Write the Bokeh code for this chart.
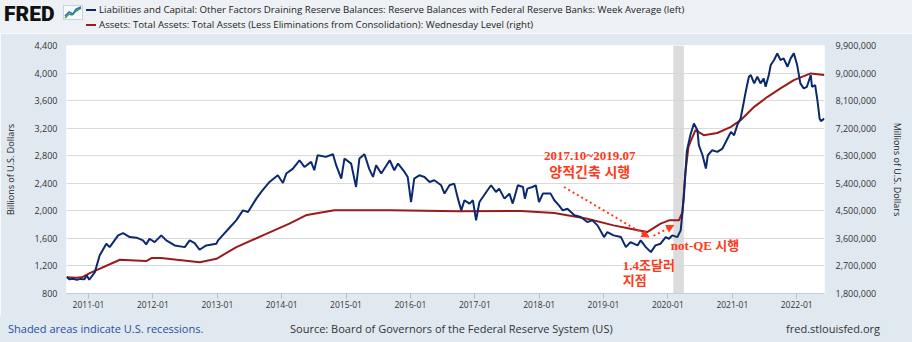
import pandas as pd
from bokeh.plotting import figure
from bokeh.layouts import column
from bokeh.models import (Range1d, LinearAxis, FixedTicker, NumeralTickFormatter,
                          DatetimeTickFormatter, BoxAnnotation, Label, Arrow,
                          NormalHead, ColumnDataSource, Div)
from bokeh.embed import file_html
from bokeh.resources import INLINE

# ---------------- data ----------------
reserves_dates = [
    "2010-08-29", "2010-09-15", "2010-10-06", "2010-10-27", "2010-11-17", "2010-12-08",
    "2010-12-22", "2011-01-05", "2011-02-06", "2011-03-05", "2011-04-12", "2011-05-01",
    "2011-06-18", "2011-07-16", "2011-08-23", "2011-09-30", "2011-11-06", "2011-11-24",
    "2011-12-13", "2012-01-11", "2012-02-18", "2012-03-17", "2012-05-04", "2012-06-30",
    "2012-07-28", "2012-08-25", "2012-09-22", "2012-10-30", "2012-12-26", "2013-01-05",
    "2013-03-11", "2013-04-18", "2013-05-26", "2013-06-24", "2013-08-10", "2013-09-07",
    "2013-10-24", "2013-12-10", "2014-01-08", "2014-01-27", "2014-03-06", "2014-04-12",
    "2014-05-10", "2014-06-17", "2014-07-05", "2014-07-24", "2014-09-09", "2014-10-19",
    "2014-11-06", "2014-12-05", "2014-12-23", "2015-01-30", "2015-02-27", "2015-03-18",
    "2015-04-16", "2015-05-12", "2015-06-03", "2015-06-21", "2015-07-20", "2015-09-06",
    "2015-10-02", "2015-10-23", "2015-11-29", "2015-12-17", "2016-01-05", "2016-01-23",
    "2016-02-21", "2016-03-21", "2016-04-19", "2016-05-16", "2016-06-24", "2016-07-13",
    "2016-08-10", "2016-09-06", "2016-09-27", "2016-10-16", "2016-11-03", "2016-12-02",
    "2016-12-21", "2017-01-08", "2017-01-27", "2017-03-07", "2017-04-03", "2017-05-01",
    "2017-05-19", "2017-06-18", "2017-07-16", "2017-08-04", "2017-09-02", "2017-10-01",
    "2017-10-12", "2017-10-26", "2017-11-24", "2017-12-13", "2017-12-31", "2018-01-22",
    "2018-03-07", "2018-03-28", "2018-04-23", "2018-05-15", "2018-06-10", "2018-07-20",
    "2018-08-25", "2018-10-01", "2018-10-30", "2018-11-28", "2019-01-04", "2019-01-23",
    "2019-02-27", "2019-04-10", "2019-05-08", "2019-06-03", "2019-07-13", "2019-07-31",
    "2019-08-29", "2019-09-27", "2019-10-23", "2019-11-21", "2019-12-20", "2020-01-08",
    "2020-01-26", "2020-02-24", "2020-03-14", "2020-04-01", "2020-04-18", "2020-05-08",
    "2020-05-28", "2020-06-17", "2020-06-25", "2020-07-16", "2020-08-04", "2020-08-15",
    "2020-09-09", "2020-10-08", "2020-11-06", "2020-12-05", "2020-12-24", "2021-01-11",
    "2021-01-29", "2021-02-17", "2021-02-28", "2021-03-18", "2021-04-05", "2021-04-16",
    "2021-05-05", "2021-05-23", "2021-06-10", "2021-06-28", "2021-07-09", "2021-07-27",
    "2021-08-07", "2021-08-26", "2021-09-13", "2021-10-01", "2021-10-19", "2021-11-10",
    "2021-11-28", "2021-12-16", "2022-01-04", "2022-01-22", "2022-02-10", "2022-02-28",
    "2022-03-22", "2022-03-29", "2022-04-16", "2022-04-30", "2022-05-11", "2022-05-19",
    "2022-06-07",
]
reserves_billions = [
    1040, 1005, 1015, 998, 1012, 1005,
    1062, 1000, 1110, 1352, 1523, 1473,
    1644, 1677, 1619, 1610, 1571, 1513,
    1595, 1546, 1644, 1571, 1498, 1473,
    1571, 1532, 1435, 1498, 1523, 1571,
    1755, 1862, 2007, 1983, 2177, 2274,
    2419, 2516, 2404, 2541, 2613, 2734,
    2637, 2710, 2589, 2807, 2783, 2822,
    2662, 2468, 2759, 2686, 2346, 2759,
    2822, 2613, 2492, 2662, 2541, 2734,
    2589, 2686, 2565, 2492, 2128, 2468,
    2516, 2492, 2419, 2444, 2371, 2250,
    2371, 2395, 2177, 2007, 2153, 2105,
    2153, 1862, 2128, 2274, 2371, 2274,
    2322, 2177, 2250, 2105, 2371, 2346,
    2177, 2322, 2346, 2371, 2128, 2250,
    2250, 2153, 2080, 2007, 2031, 1935,
    1910, 1837, 1862, 1789, 1619, 1692,
    1644, 1619, 1473, 1546, 1498, 1571,
    1473, 1401, 1498, 1523, 1619, 1595,
    1644, 1619, 1716, 2200, 2870, 3100,
    3268, 3171, 2953, 2807, 2613, 2807,
    2880, 2856, 2904, 3050, 3146, 3098,
    3244, 3341, 3486, 3728, 3946, 3971,
    3850, 3946, 3850, 3922, 3801, 3971,
    4116, 4189, 4286, 4189, 4213, 4092,
    4213, 4286, 4116, 3850, 3777, 3801,
    3971, 3801, 3825, 3583, 3341, 3302,
    3341,
]

assets_dates = [
    "2010-08-29", "2010-10-23", "2010-11-24", "2011-01-08", "2011-06-28", "2011-11-24",
    "2011-12-24", "2012-02-17", "2012-05-16", "2012-09-23", "2012-12-27", "2013-04-19",
    "2013-09-16", "2014-02-14", "2014-05-18", "2014-06-17", "2014-10-27", "2015-01-30",
    "2015-09-13", "2016-09-27", "2017-09-20", "2018-03-28", "2018-10-01", "2019-02-27",
    "2019-06-03", "2019-09-06", "2019-10-16", "2019-11-21", "2020-01-08", "2020-03-04",
    "2020-03-24", "2020-04-09", "2020-04-27", "2020-05-08", "2020-06-06", "2020-07-23",
    "2020-10-08", "2020-12-24", "2021-02-17", "2021-05-05", "2021-07-20", "2021-10-01",
    "2021-12-16", "2022-03-22", "2022-06-07",
]
assets_millions = [
    2330000, 2311000, 2330000, 2464000, 2902000, 2858000,
    2957000, 2957000, 2902000, 2824000, 2934000, 3314000,
    3699000, 4081000, 4354000, 4385000, 4516000, 4522000,
    4516000, 4489000, 4493000, 4428000, 4243000, 4025000,
    3917000, 3807000, 3949000, 4081000, 4189000, 4189000,
    4459000, 5717000, 6588000, 6752000, 7135000, 6970000,
    7042000, 7243000, 7461000, 7897000, 8224000, 8498000,
    8770000, 8989000, 8935000,
]

left_ticks = [800, 1200, 1600, 2000, 2400, 2800, 3200, 3600, 4000, 4400]
right_ticks = [1800000, 2700000, 3600000, 4500000, 5400000, 6300000,
               7200000, 8100000, 9000000, 9900000]
x_tick_dates = ["2011-01-01", "2012-01-01", "2013-01-01", "2014-01-01", "2015-01-01",
                "2016-01-01", "2017-01-01", "2018-01-01", "2019-01-01", "2020-01-01",
                "2021-01-01", "2022-01-01"]
recession = ("2020-02-01", "2020-04-01")

series1_name = ("Liabilities and Capital: Other Factors Draining Reserve Balances: "
                "Reserve Balances with Federal Reserve Banks: Week Average (left)")
series2_name = ("Assets: Total Assets: Total Assets (Less Eliminations from "
                "Consolidation): Wednesday Level (right)")


def ms(d):
    return pd.Timestamp(d).value / 1e6


W, H = 912, 342
HEAD_H = 33
FOOT_H = 26
MAIN_H = H - HEAD_H - FOOT_H
FL, FR = 65, 824
FT, FB = 45, 293

BLUE = "#0b2a6e"
RED = "#9b1b1b"
ANN = "#ff3a1a"
BG = "#e1e9f0"
HEAD_BG = "#edf1f5"
FONT = "Open Sans"
KFONT = "Liberation Serif, Noto Sans CJK KR"

# ---------------- main chart ----------------
p = figure(width=W, height=MAIN_H, output_backend="svg", toolbar_location=None,
           x_axis_type="datetime",
           x_range=Range1d(ms("2010-08-29"), ms("2022-06-08")),
           y_range=Range1d(800, 4400),
           min_border_left=FL, min_border_right=W - FR,
           min_border_top=FT - HEAD_H, min_border_bottom=(H - FOOT_H) - FB,
           background_fill_color="white", border_fill_color=BG)
p.outline_line_color = None
p.extra_y_ranges = {"assets": Range1d(1800000, 9900000)}

p.add_layout(BoxAnnotation(left=ms(recession[0]), right=ms(recession[1]),
                           fill_color="#d6d6d6", fill_alpha=0.85, line_color=None,
                           level="underlay"))

src1 = ColumnDataSource(dict(date=[ms(d) for d in reserves_dates], value=reserves_billions))
src2 = ColumnDataSource(dict(date=[ms(d) for d in assets_dates], value=assets_millions))
p.line("date", "value", source=src2, color=RED, line_width=2, y_range_name="assets")
p.line("date", "value", source=src1, color=BLUE, line_width=2)

yl = p.yaxis[0]
yl.ticker = FixedTicker(ticks=left_ticks)
yl.formatter = NumeralTickFormatter(format="0,0")
yl.axis_label = "Billions of U.S. Dollars"

yr = LinearAxis(y_range_name="assets", ticker=FixedTicker(ticks=right_ticks),
                formatter=NumeralTickFormatter(format="0,0"),
                axis_label="Millions of U.S. Dollars")
p.add_layout(yr, "right")

for ax, st, lst in [(yl, 9, 15), (yr, 11, 12)]:
    ax.axis_line_color = None
    ax.major_tick_line_color = None
    ax.minor_tick_line_color = None
    ax.major_tick_out = 0
    ax.major_tick_in = 0
    ax.major_label_standoff = st
    ax.axis_label_standoff = lst
    ax.major_label_text_font = FONT
    ax.major_label_text_font_size = "9px"
    ax.major_label_text_color = "#333333"
    ax.axis_label_text_font = FONT
    ax.axis_label_text_font_size = "9px"
    ax.axis_label_text_font_style = "normal"
    ax.axis_label_text_color = "#222222"

xa = p.xaxis[0]
xa.ticker = FixedTicker(ticks=[ms(d) for d in x_tick_dates])
xa.formatter = DatetimeTickFormatter(years="%Y-%m", months="%Y-%m", days="%Y-%m",
                                     hours="%Y-%m", minutes="%Y-%m", seconds="%Y-%m",
                                     milliseconds="%Y-%m", microseconds="%Y-%m")
xa.axis_line_color = "#c4ceda"
xa.major_tick_line_color = "#b4c0cc"
xa.minor_tick_line_color = None
xa.major_tick_out = 5
xa.major_tick_in = 0
xa.major_label_standoff = 2
xa.major_label_text_font = FONT
xa.major_label_text_font_size = "8.5px"
xa.major_label_text_color = "#333333"

p.xgrid.visible = False
p.ygrid.ticker = FixedTicker(ticks=left_ticks)
p.ygrid.grid_line_color = "#dadada"
p.ygrid.grid_line_width = 1


def dlabel(x, y, text, align="center", size="13px"):
    p.add_layout(Label(x=ms(x), y=y, text=text, text_color=ANN, text_font=KFONT,
                       text_font_size=size, text_font_style="bold",
                       text_align=align, text_baseline="middle"))


dlabel("2018-10-15", 2805, "2017.10~2019.07")
dlabel("2018-10-15", 2560, "양적긴축 시행", size="14px")
dlabel("2020-01-18", 1500, "not-QE 시행", "left")
dlabel("2019-04-20", 1207, "1.4조달러", "left")
dlabel("2019-04-20", 989, "지점", "left")

p.add_layout(Arrow(end=NormalHead(size=7, fill_color=ANN, line_color=ANN),
                   x_start=ms("2018-05-22"), y_start=2346,
                   x_end=ms("2019-09-16"), y_end=1619,
                   line_color=ANN, line_width=2, line_dash="2 3"))
p.add_layout(Arrow(end=NormalHead(size=7, fill_color=ANN, line_color=ANN),
                   x_start=ms("2019-10-12"), y_start=1636,
                   x_end=ms("2020-02-03"), y_end=1789,
                   line_color=ANN, line_width=2, line_dash="2 3"))

# ---------------- header & footer (HTML strips) ----------------
span = ("position:absolute;white-space:nowrap;line-height:14px;"
        "font-family:'Open Sans',sans-serif;")
icon = ('<svg style="position:absolute;left:63px;top:5px" width="20" height="15">'
        '<rect x="0.5" y="0.5" width="19" height="14" fill="#f7f9fb" stroke="#c9d3dd"/>'
        '<polyline points="2,13 6,9 9,10 13,6 18,3" fill="none" stroke="#3a9a3a" stroke-width="1.5"/>'
        '<polyline points="2,11 6,7 10,9 13,4 18,2" fill="none" stroke="#2f6fc0" stroke-width="1.5"/>'
        '</svg>')
head_html = (
    f'<div style="position:relative;width:{W}px;height:{HEAD_H}px;background:{HEAD_BG};overflow:hidden;">'
    f'<span style="{span}left:4px;top:2px;line-height:24px;font-family:Roboto,sans-serif;'
    f'font-weight:900;font-size:21px;color:#111;">FRED</span>'
    f'{icon}'
    f'<span style="position:absolute;left:86px;top:9px;width:10px;height:2px;background:{BLUE};"></span>'
    f'<span style="position:absolute;left:86px;top:24px;width:10px;height:2px;background:{RED};"></span>'
    f'<span style="{span}left:99px;top:3px;font-size:9.7px;color:#222;">{series1_name}</span>'
    f'<span style="{span}left:99px;top:18px;font-size:9.7px;color:#222;">{series2_name}</span>'
    f'</div>'
)
foot_html = (
    f'<div style="position:relative;width:{W}px;height:{FOOT_H}px;background:{BG};overflow:hidden;">'
    f'<span style="{span}left:8px;top:6px;font-size:11px;color:#1f4f9e;">'
    f'Shaded areas indicate U.S. recessions.</span>'
    f'<span style="{span}left:290px;top:6px;font-size:11px;color:#333;">'
    f'Source: Board of Governors of the Federal Reserve System (US)</span>'
    f'<span style="{span}right:32px;top:6px;font-size:11px;color:#333;">'
    f'fred.stlouisfed.org</span>'
    f'</div>'
)
head = Div(text=head_html, width=W, height=HEAD_H, margin=0)
foot = Div(text=foot_html, width=W, height=FOOT_H, margin=0)

layout = column(head, p, foot, spacing=0)
open("out.html", "w").write(file_html(layout, INLINE))
